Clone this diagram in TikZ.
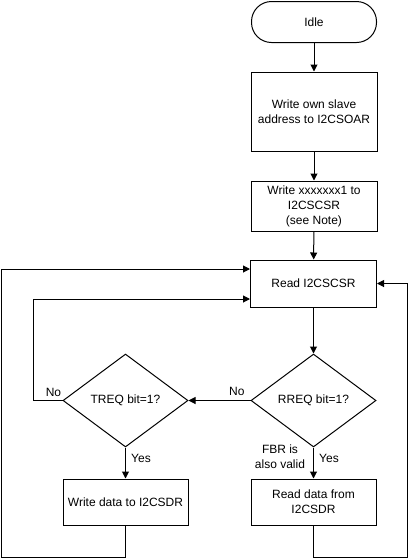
\documentclass[tikz,border=0pt]{standalone}
\usepackage{fontspec}
\setmainfont{Liberation Sans}
\usetikzlibrary{arrows.meta,shapes.geometric}
\begin{document}
\begin{tikzpicture}[x=1pt,y=-1pt,
  every node/.style={font=\fontsize{12}{15}\selectfont},
  box/.style={draw,line width=1pt,align=center,inner sep=0pt},
  term/.style={box,rounded corners=20pt},
  dec/.style={draw,line width=1pt,shape=diamond,inner sep=0pt,align=center},
  line/.style={line width=1pt},
  arr/.style={line,-{Triangle[length=7pt,width=7pt]}},
  lbl/.style={inner sep=0pt,align=center}]
\useasboundingbox (0,0) rectangle (408,558);
\node[term,minimum width=125pt,minimum height=41pt] (idle) at (314,22) {Idle};
\node[box,minimum width=126pt,minimum height=79pt] (own) at (314,111.5) {Write own slave\\address to I2CSOAR};
\node[box,minimum width=126pt,minimum height=50pt] (wcsr) at (314,206) {Write xxxxxxx1 to\\I2CSCSR\\(see Note)};
\node[box,minimum width=126pt,minimum height=47pt] (read) at (313.5,283.5) {Read I2CSCSR};
\node[dec,minimum width=125pt,minimum height=93pt] (rreq) at (313.5,400.5) {RREQ bit=1?};
\node[dec,minimum width=125pt,minimum height=93pt] (treq) at (125.5,400.5) {TREQ bit=1?};
\node[box,minimum width=125pt,minimum height=46pt] (wdata) at (125.5,502) {Write data to I2CSDR};
\node[box,minimum width=125pt,minimum height=46pt] (rdata) at (313.5,502) {Read data from\\I2CSDR};
\coordinate (c1) at (33,299);
\coordinate (b1) at (1,557);
\coordinate (t1) at (1,269);
\coordinate (b2) at (407,557);
\coordinate (t2) at (407,283.5);
\draw[arr] (idle) -- (own);
\draw[arr] (own) -- (wcsr);
\draw[arr] (wcsr) -- (read);
\draw[arr] (read) -- (rreq);
\draw[arr] (rreq.west) -- node[lbl,above=4pt,pos=0.22] {No} (treq.east);
\draw[arr] (treq.west) -| (c1) -- (c1 -| read.west);
\node[lbl] at (53.5,392) {No};
\draw[arr] (treq.south) -- (wdata.north);
\draw[arr] (rreq.south) -- (rdata.north);
\node[lbl,anchor=west] at (131,458) {Yes};
\node[lbl,anchor=west] at (319,458) {Yes};
\node[lbl] at (280,457) {FBR is\\also valid};
\draw[arr] (wdata.south) |- (b1) -- (t1) -- (t1 -| read.west);
\draw[arr] (rdata.south) |- (b2) -- (t2) -- (read.east);
\end{tikzpicture}
\end{document}
